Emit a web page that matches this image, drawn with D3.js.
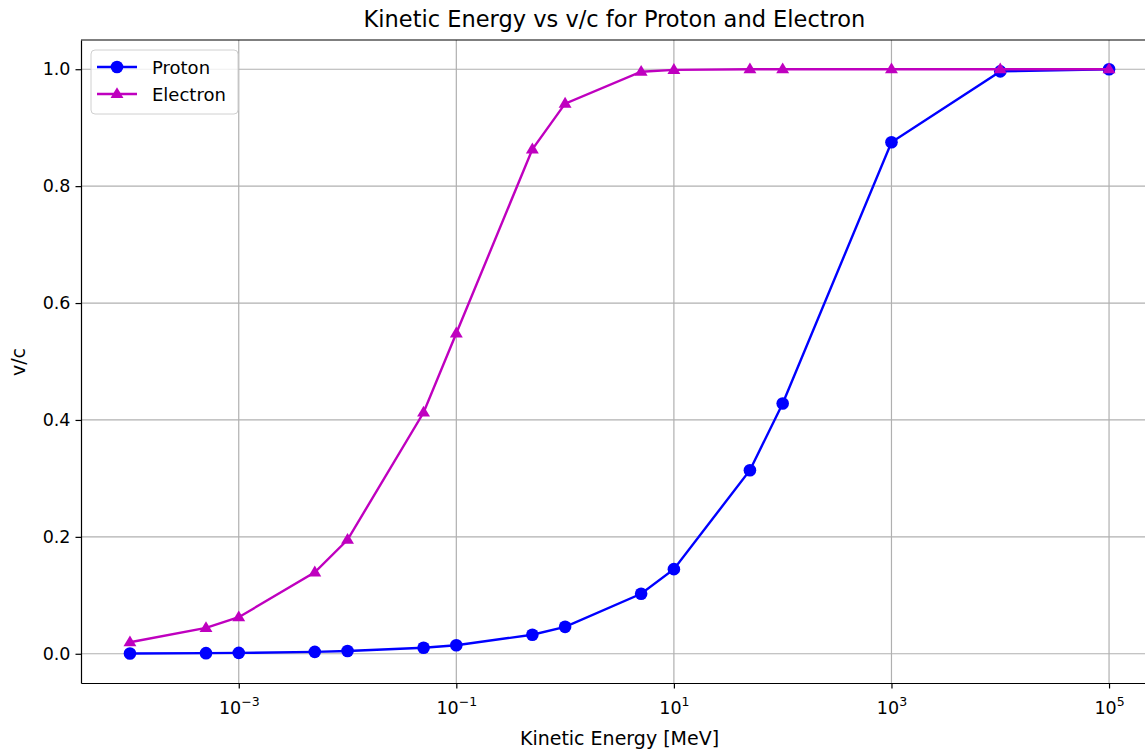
<!DOCTYPE html>
<html>
<head>
<meta charset="utf-8">
<script src="https://cdn.jsdelivr.net/npm/d3@7"></script>
<style>
  html, body { margin: 0; padding: 0; background: #fff; }
  svg { display: block; font-family: "DejaVu Sans", sans-serif; }
</style>
</head>
<body>
<svg id="chart" width="1145" height="750"></svg>
<script>
// Kinetic energy samples in MeV
const kineticEnergy = [1e-4, 5e-4, 1e-3, 5e-3, 1e-2, 5e-2, 0.1, 0.5, 1, 5, 10, 50, 100, 1000, 1e4, 1e5];
// v/c for each particle at those energies
const protonBeta = [0.00046, 0.00103, 0.00146, 0.00326, 0.00462, 0.0103, 0.0146, 0.0326, 0.0461, 0.1026, 0.1448, 0.3140, 0.4282, 0.8750, 0.9963, 0.99995];
const electronBeta = [0.0198, 0.0442, 0.0625, 0.1393, 0.1950, 0.4127, 0.5482, 0.8630, 0.9411, 0.9957, 0.99887, 0.99995, 0.99999, 1.0, 1.0, 1.0];
const xTickExponents = [-3, -1, 1, 3, 5];
const yTicks = [0.0, 0.2, 0.4, 0.6, 0.8, 1.0];

const svg = d3.select("#chart");
const plotLeft = 81, plotRight = 1158, plotTop = 40, plotBottom = 683;
const tickFont = 17.5;

const x = d3.scaleLog().domain([Math.pow(10, -4.45), Math.pow(10, 5.45)]).range([plotLeft, plotRight]);
const y = d3.scaleLinear().domain([-0.05, 1.05]).range([plotBottom, plotTop]);

// grid lines
const grid = svg.append("g").attr("stroke", "#b0b0b0").attr("stroke-width", 1.2);
xTickExponents.forEach(e => {
  grid.append("line").attr("x1", x(Math.pow(10, e))).attr("x2", x(Math.pow(10, e)))
    .attr("y1", plotTop).attr("y2", plotBottom);
});
yTicks.forEach(v => {
  grid.append("line").attr("x1", plotLeft).attr("x2", plotRight).attr("y1", y(v)).attr("y2", y(v));
});

// axes
const xAxis = d3.axisBottom(x).tickValues(xTickExponents.map(e => Math.pow(10, e)))
  .tickSizeInner(5.5).tickSizeOuter(0).tickPadding(5).tickFormat(() => "");
const gx = svg.append("g").attr("transform", `translate(0,${plotBottom})`).call(xAxis);
gx.select(".domain").attr("stroke", "#000").attr("stroke-width", 1.2);
gx.selectAll(".tick line").attr("stroke", "#000").attr("stroke-width", 1.2);
gx.selectAll(".tick").each(function(d) {
  const e = Math.round(Math.log10(d));
  const t = d3.select(this).append("text")
    .attr("y", 31).attr("fill", "#000").attr("font-size", tickFont)
    .attr("text-anchor", "middle").attr("font-family", "DejaVu Sans, sans-serif");
  t.append("tspan").text("10");
  t.append("tspan").attr("dy", -8).attr("font-size", 12.5).text(e < 0 ? "\u2212" + Math.abs(e) : String(e));
});

const yAxis = d3.axisLeft(y).tickValues(yTicks).tickSizeInner(5.5).tickSizeOuter(0).tickPadding(5)
  .tickFormat(d3.format(".1f"));
const gy = svg.append("g").attr("transform", `translate(${plotLeft},0)`).call(yAxis);
gy.select(".domain").attr("stroke", "#000").attr("stroke-width", 1.2);
gy.selectAll(".tick line").attr("stroke", "#000").attr("stroke-width", 1.2);
gy.selectAll(".tick text").attr("font-size", tickFont).attr("fill", "#000")
  .attr("font-family", "DejaVu Sans, sans-serif");

// top spine
svg.append("line").attr("x1", plotLeft).attr("x2", plotRight).attr("y1", plotTop).attr("y2", plotTop)
  .attr("stroke", "#000").attr("stroke-width", 1.2);

// series
const line = (vals) => d3.line().x((d, i) => x(kineticEnergy[i])).y(d => y(d))(vals);
const triPath = (r) => `M0,${-r}L${r * 0.95},${r * 0.6}L${-r * 0.95},${r * 0.6}Z`;

const plot = svg.append("g");
plot.append("path").attr("d", line(protonBeta)).attr("fill", "none")
  .attr("stroke", "#0000ff").attr("stroke-width", 2.4);
plot.selectAll("circle.p").data(protonBeta).join("circle")
  .attr("cx", (d, i) => x(kineticEnergy[i])).attr("cy", d => y(d))
  .attr("r", 6.3).attr("fill", "#0000ff");

plot.append("path").attr("d", line(electronBeta)).attr("fill", "none")
  .attr("stroke", "#bf00bf").attr("stroke-width", 2.4);
plot.selectAll("path.e").data(electronBeta).join("path").attr("class", "e")
  .attr("transform", (d, i) => `translate(${x(kineticEnergy[i])},${y(d)})`)
  .attr("d", triPath(6.8)).attr("fill", "#bf00bf");

// legend
const lg = svg.append("g").attr("transform", "translate(91,50)");
lg.append("rect").attr("width", 147).attr("height", 64).attr("rx", 4)
  .attr("fill", "#fff").attr("fill-opacity", 0.8).attr("stroke", "#d0d0d0");
const entries = [
  { name: "Proton", color: "#0000ff", marker: "circle" },
  { name: "Electron", color: "#bf00bf", marker: "tri" }
];
entries.forEach((e, i) => {
  const cy = 17 + i * 27;
  lg.append("line").attr("x1", 6).attr("x2", 46).attr("y1", cy).attr("y2", cy)
    .attr("stroke", e.color).attr("stroke-width", 2.4);
  if (e.marker === "circle") {
    lg.append("circle").attr("cx", 26).attr("cy", cy).attr("r", 6.3).attr("fill", e.color);
  } else {
    lg.append("path").attr("transform", `translate(26,${cy})`).attr("d", triPath(6.8)).attr("fill", e.color);
  }
  lg.append("text").attr("x", 61).attr("y", cy + 6.5).attr("font-size", 18)
    .attr("fill", "#000").text(e.name);
});

// title and axis labels
svg.append("text").attr("x", (plotLeft + plotRight) / 2 - 5).attr("y", 27).attr("text-anchor", "middle")
  .attr("font-size", 22.5).attr("fill", "#000").text("Kinetic Energy vs v/c for Proton and Electron");
svg.append("text").attr("x", (plotLeft + plotRight) / 2).attr("y", 745).attr("text-anchor", "middle")
  .attr("font-size", 19).attr("fill", "#000").text("Kinetic Energy [MeV]");
svg.append("text").attr("transform", "translate(25,362) rotate(-90)").attr("text-anchor", "middle")
  .attr("font-size", 19).attr("fill", "#000").text("v/c");
</script>
</body>
</html>
